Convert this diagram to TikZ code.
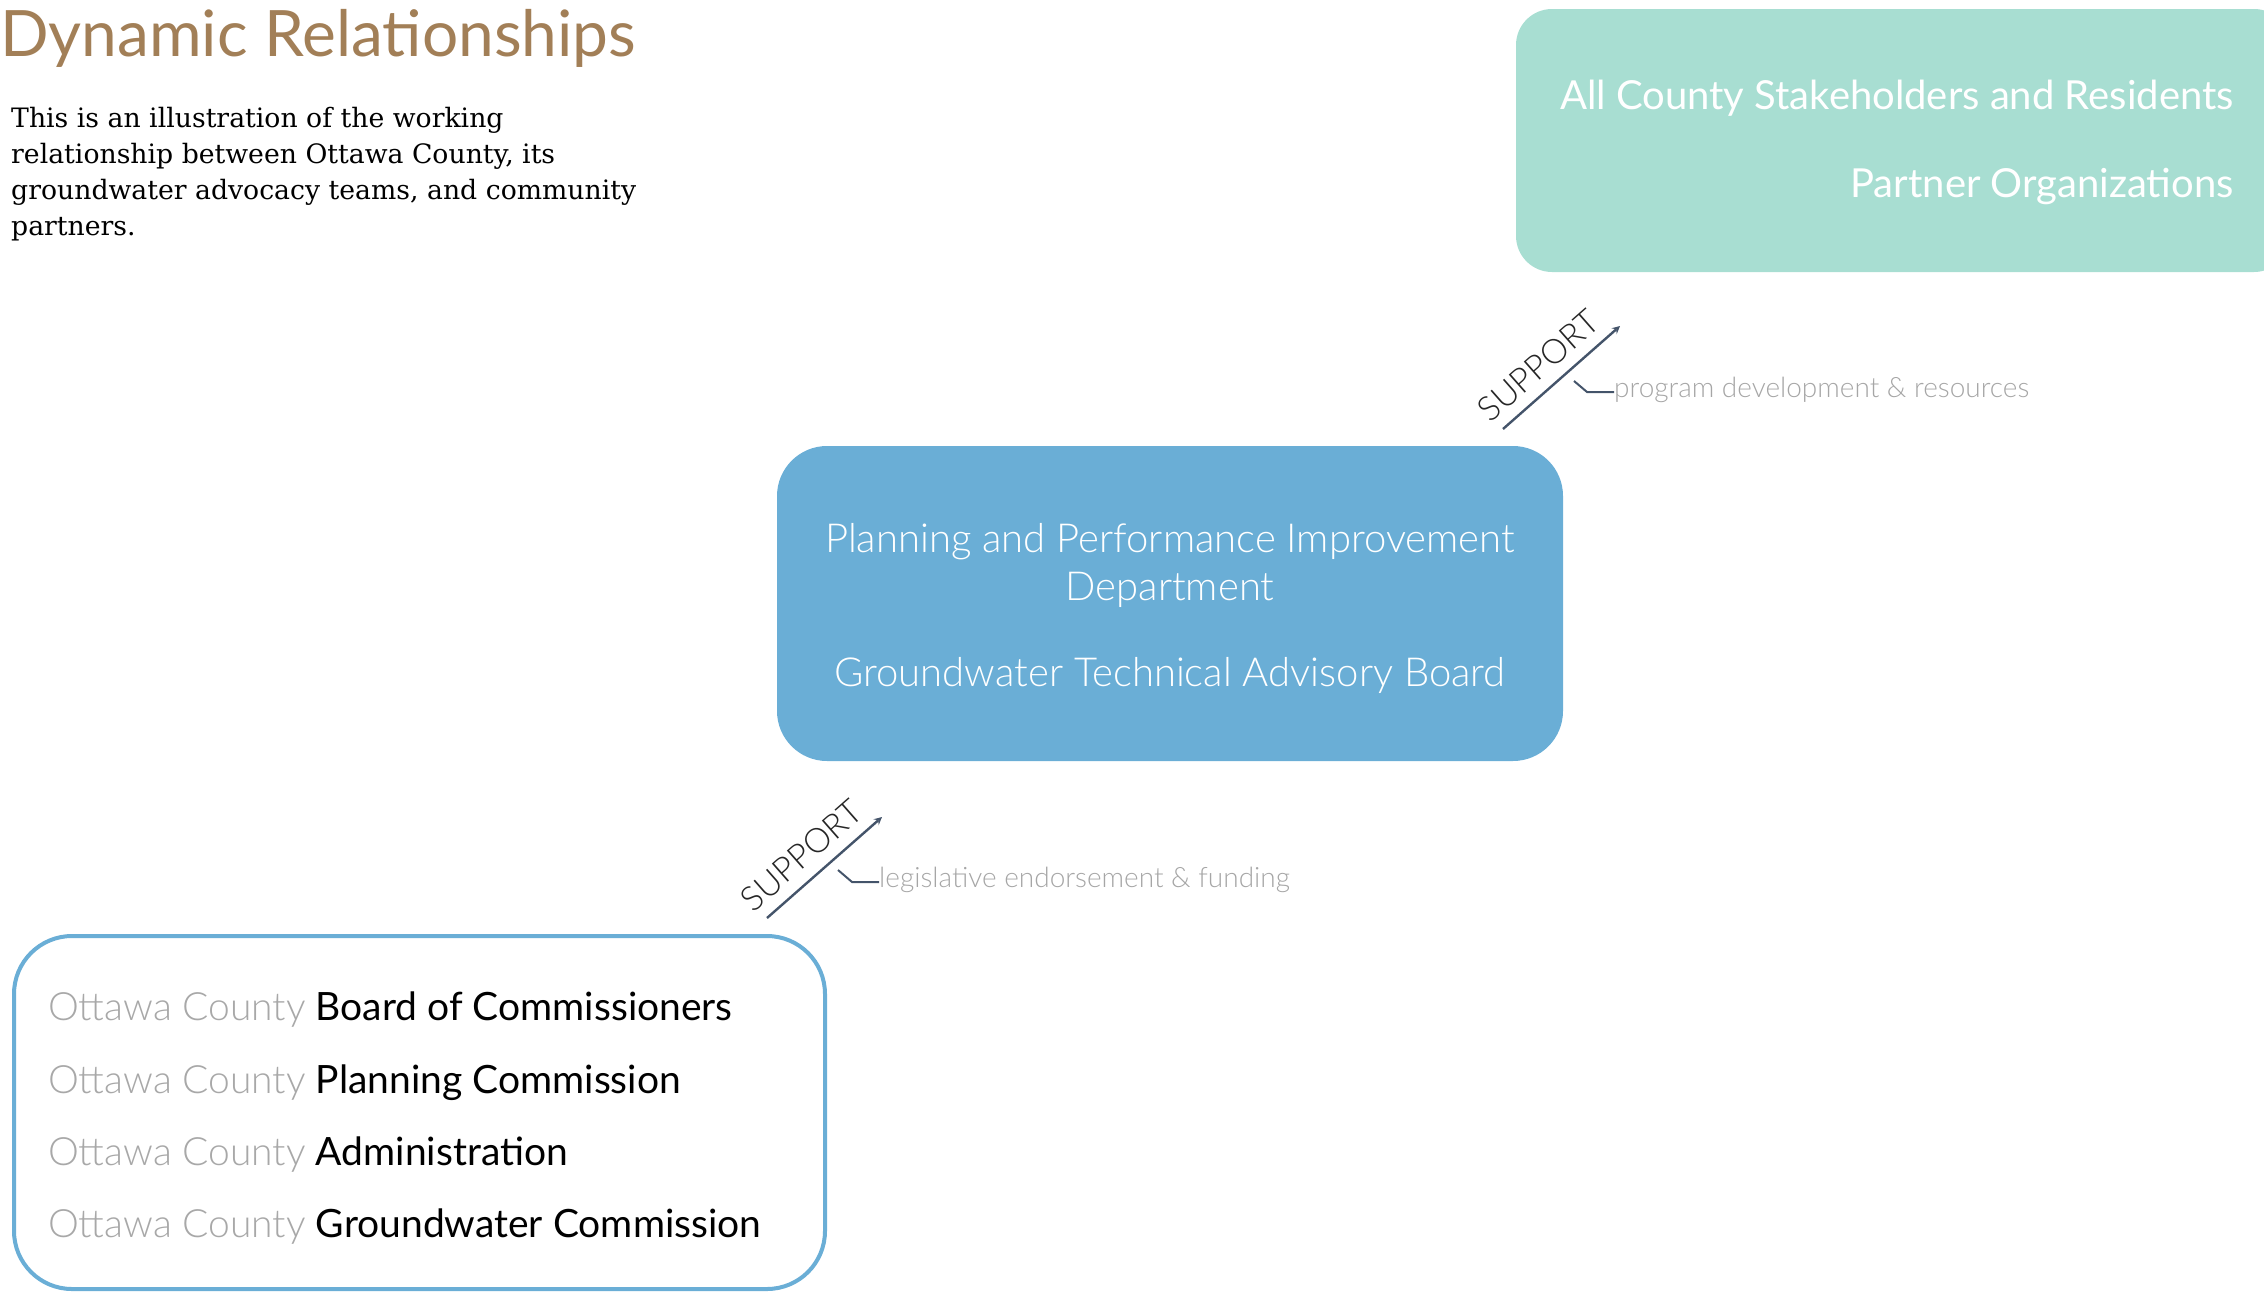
\documentclass[tikz,border=0pt]{standalone}
\usepackage{fontspec}
\setmainfont{Lato}
\newfontfamily\latolight{Lato Light}
\newfontfamily\bodyserif{DejaVu Serif}
\usetikzlibrary{positioning}

\definecolor{titlebrown}{HTML}{A27F57}
\definecolor{partnerteal}{HTML}{A8DED2}
\definecolor{deptblue}{HTML}{6AAED6}
\definecolor{arrowslate}{HTML}{44546A}
\definecolor{notegray}{HTML}{A6A6A6}
\definecolor{countygray}{HTML}{A8A8A8}

\tikzset{
	roundbox/.style={rounded corners=#1,inner sep=0pt},
	bigtext/.style={inner sep=0pt,font=\fontsize{40}{48}\selectfont},
	support/.style={->,line width=2.4pt,draw=arrowslate},
	supportlabel/.style={font=\latolight\fontsize{34}{40}\selectfont,text=black!85,inner sep=2pt},
	note/.style={anchor=base west,inner sep=0pt,text=notegray,font=\latolight\fontsize{28}{34}\selectfont},
	bracket/.style={line width=2pt,draw=arrowslate}
}

\begin{document}
\begin{tikzpicture}[x=1pt,y=-1pt,>=stealth]
	\clip (0,0) rectangle (2264,1293);

	% heading and intro
	\node[anchor=base west,inner sep=0pt,text=titlebrown,
		font=\fontsize{64}{72}\selectfont] (title) at (0,56) {Dynamic Relationships};
	\node[anchor=north west,inner sep=0pt,align=left,
		font=\bodyserif\fontsize{26.7}{36}\selectfont] (intro) at (11,107)
		{This is an illustration of the working\\
		relationship between Ottawa County, its\\
		groundwater advocacy teams, and community\\
		partners.};

	% the three groups
	\node[roundbox=36pt,fill=partnerteal,minimum width=774pt,minimum height=263pt] (partners) at (1903,140.5) {};
	\node[bigtext,anchor=base east,text=white] (residents) at (2234,109) {All County Stakeholders and Residents};
	\node[bigtext,anchor=base east,text=white] (orgs) at (2234,197) {Partner Organizations};

	\node[roundbox=50pt,fill=deptblue,minimum width=786pt,minimum height=315pt] (dept) at (1170,603.5) {};
	\node[bigtext,anchor=base,text=white,font=\latolight\fontsize{40}{48}\selectfont] (ppid) at (1170,552) {Planning and Performance Improvement};
	\node[bigtext,anchor=base,text=white,font=\latolight\fontsize{40}{48}\selectfont] (ppidb) at (1170,600) {Department};
	\node[bigtext,anchor=base,text=white,font=\latolight\fontsize{40}{48}\selectfont] (gtab) at (1170,686) {Groundwater Technical Advisory Board};

	\node[roundbox=58pt,draw=deptblue,line width=4pt,fill=white,minimum width=811pt,minimum height=353pt] (county) at (419.5,1112.5) {};
	\foreach \y/\body [count=\i] in {1020/Board of Commissioners,1093/Planning Commission,
		1165/Administration,1237/Groundwater Commission}{
		\node[bigtext,anchor=base west,font=\fontsize{39}{46}\selectfont] (body\i) at (48,\y)
			{{\latolight\color{countygray}Ottawa County} \body};
	}

	% support arrows
	\coordinate (upTail) at (1503,429);
	\coordinate (upHead) at (1620,326);
	\draw[support] (upTail) -- node[pos=0.44,sloped,above=9pt,supportlabel] (upSupport) {SUPPORT} (upHead);
	\node[note] (upNote) at (1614,397) {program development \& resources};
	\coordinate (upKink) at (1587,392);
	\draw[bracket] (1574,381) -- (upKink) -- (upNote.west |- upKink);

	\coordinate (lowTail) at (767,918);
	\coordinate (lowHead) at (882,817);
	\draw[support] (lowTail) -- node[pos=0.44,sloped,above=9pt,supportlabel] (lowSupport) {SUPPORT} (lowHead);
	\node[note] (lowNote) at (879,887) {legislative endorsement \& funding};
	\coordinate (lowKink) at (852,882);
	\draw[bracket] (838,870) -- (lowKink) -- (lowNote.west |- lowKink);
\end{tikzpicture}
\end{document}
